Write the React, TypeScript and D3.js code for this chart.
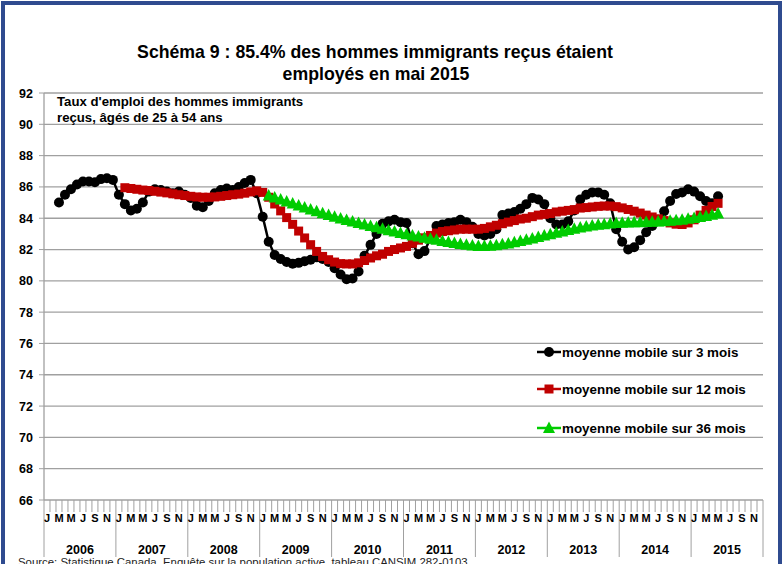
import * as d3 from "d3";

// months are counted from Jan 2006 (index 0)
const years = ["2006", "2007", "2008", "2009", "2010", "2011", "2012", "2013", "2014", "2015"];
const monthLetters = ["J", "F", "M", "A", "M", "J", "J", "A", "S", "O", "N", "D"];
const yTicks = [66, 68, 70, 72, 74, 76, 78, 80, 82, 84, 86, 88, 90, 92];

const start3 = 2; // Mar 2006
const avg3 = [
  85.0, 85.5, 85.85, 86.15, 86.35, 86.35, 86.3, 86.5, 86.55, 86.45,
  85.5, 84.9, 84.5, 84.6, 85.0, 85.7, 85.85, 85.8, 85.7, 85.6, 85.7, 85.5,
  85.3, 84.8, 84.7, 85.1, 85.6, 85.8, 85.9, 85.8, 86.0, 86.25, 86.45, 85.6,
  84.1, 82.5, 81.65, 81.4, 81.2, 81.1, 81.15, 81.25, 81.35, 81.5, 81.4, 81.2,
  80.8, 80.4, 80.1, 80.15, 80.6, 81.6, 82.3, 83.0, 83.65, 83.8, 83.9, 83.75,
  83.7, 82.4, 81.7, 81.9, 82.7, 83.5, 83.6, 83.7, 83.75, 83.9, 83.75, 83.45,
  83.0, 82.9, 83.0, 83.3, 84.2, 84.3, 84.4, 84.6, 84.9, 85.3, 85.2, 84.9,
  84.0, 83.6, 83.6, 83.8, 84.5, 85.2, 85.5, 85.65, 85.65, 85.5, 84.95, 83.3,
  82.5, 82.0, 82.15, 82.6, 83.1, 83.5, 83.9, 84.45, 85.1, 85.55, 85.65, 85.85,
  85.7, 85.4, 85.1, 84.95, 85.4,
];

const start12 = 13; // Feb 2007
const avg12 = [
  85.95, 85.9, 85.85, 85.8, 85.77, 85.72, 85.67, 85.62, 85.56, 85.5, 85.45,
  85.4, 85.36, 85.34, 85.34, 85.36, 85.4, 85.45, 85.5, 85.54, 85.6, 85.68, 85.75,
  85.65, 85.34, 84.91, 84.47, 84.04, 83.61, 83.18, 82.74, 82.31, 81.88, 81.56, 81.35,
  81.2, 81.1, 81.08, 81.08, 81.15, 81.3, 81.46, 81.6, 81.7, 81.88, 82.0, 82.1,
  82.2, 82.4, 82.6, 82.75, 82.9, 83.05, 83.15, 83.2, 83.25, 83.3, 83.3, 83.3,
  83.3, 83.35, 83.45, 83.55, 83.65, 83.75, 83.85, 83.95, 84.0, 84.1, 84.2, 84.25,
  84.3, 84.4, 84.45, 84.5, 84.55, 84.65, 84.68, 84.72, 84.76, 84.78, 84.78, 84.74,
  84.66, 84.56, 84.45, 84.33, 84.2, 84.08, 83.96, 83.85, 83.7, 83.62, 83.6, 83.7,
  83.9, 84.2, 84.5, 84.75, 84.95,
];

const start36 = 37; // Feb 2009
const avg36 = [
  85.45, 85.33, 85.2, 85.07, 84.94, 84.81, 84.68, 84.56, 84.44, 84.32, 84.21,
  84.1, 83.99, 83.89, 83.79, 83.69, 83.6, 83.51, 83.42, 83.33, 83.24, 83.15, 83.06,
  82.98, 82.9, 82.83, 82.76, 82.69, 82.62, 82.55, 82.48, 82.42, 82.36, 82.3, 82.26,
  82.23, 82.22, 82.24, 82.28, 82.33, 82.39, 82.46, 82.54, 82.62, 82.71, 82.8, 82.89,
  82.98, 83.07, 83.16, 83.25, 83.33, 83.4, 83.47, 83.53, 83.58, 83.62, 83.66, 83.69,
  83.71, 83.73, 83.74, 83.75, 83.76, 83.77, 83.79, 83.81, 83.84, 83.87, 83.91, 83.96,
  84.02, 84.08, 84.15, 84.22, 84.3,
];

const legendLabels = [
  "moyenne mobile sur 3 mois",
  "moyenne mobile sur 12 mois",
  "moyenne mobile sur 36 mois",
];

const FONT = "Arial, 'Liberation Sans', sans-serif";
const BLACK = "#000000";
const RED = "#C00000";
const GREEN = "#00CC00";
const GRID = "#A0A0A0";

const left = 44;
const right = 763;
const top = 93;
const bottom = 500;

const Marker = ({ kind, x, y, color }) => {
  if (kind === "circle") return <circle cx={x} cy={y} r={5} fill={color} />;
  if (kind === "square") return <rect x={x - 4.5} y={y - 4.5} width={9} height={9} fill={color} />;
  return <path d={`M${x},${y - 6.5}L${x + 6},${y + 5}L${x - 6},${y + 5}Z`} fill={color} />;
};

export default function App() {
  const nMonths = years.length * 12;
  const x = d3.scaleBand().domain(d3.range(nMonths)).range([left, right]).padding(0);
  const y = d3.scaleLinear().domain([66, 92]).range([bottom, top]);
  const cx = (m) => x(m) + x.bandwidth() / 2;

  const series = [
    { start: start3, values: avg3, color: BLACK, kind: "circle" },
    { start: start12, values: avg12, color: RED, kind: "square" },
    { start: start36, values: avg36, color: GREEN, kind: "triangle" },
  ];

  const line = d3
    .line()
    .x((d) => cx(d.m))
    .y((d) => y(d.v));

  return (
    <div style={{ position: "absolute", left: 0, top: 0 }}>
      <svg width={784} height={564} style={{ display: "block", fontFamily: FONT }}>
        <rect x={0} y={0} width={784} height={564} fill="#ffffff" />
        <rect x={3} y={3} width={777} height={620} fill="none" stroke="#2F4B8F" strokeWidth={4} />

        <text x={375} y={58} textAnchor="middle" fontSize={17.7} fontWeight="bold">
          Schéma 9 : 85.4% des hommes immigrants reçus étaient
        </text>
        <text x={376} y={80} textAnchor="middle" fontSize={17.7} fontWeight="bold">
          employés en mai 2015
        </text>

        {yTicks.map((t) => (
          <g key={t}>
            <line x1={left} x2={right} y1={y(t)} y2={y(t)} stroke={GRID} strokeWidth={1.3} />
            <line x1={left - 5} x2={left} y1={y(t)} y2={y(t)} stroke={GRID} strokeWidth={1} />
            <text x={33} y={y(t) + 4.5} textAnchor="end" fontSize={12.5} fontWeight="bold">
              {t}
            </text>
          </g>
        ))}
        <line x1={left} x2={left} y1={top} y2={bottom} stroke={GRID} strokeWidth={1.3} />

        <text x={57} y={106} fontSize={13.2} fontWeight="bold">
          Taux d'emploi des hommes immigrants
        </text>
        <text x={57} y={122} fontSize={13.2} fontWeight="bold">
          reçus, âgés de 25 à 54 ans
        </text>

        {d3.range(nMonths + 1).map((m) => {
          const xx = m === nMonths ? right : x(m);
          const yearEdge = m % 12 === 0;
          return (
            <line
              key={m}
              x1={xx}
              x2={xx}
              y1={bottom}
              y2={yearEdge ? 557 : 512}
              stroke={GRID}
              strokeWidth={1}
            />
          );
        })}
        {d3.range(nMonths).map((m) =>
          m % 2 === 0 ? (
            <text key={m} x={cx(m)} y={522} textAnchor="middle" fontSize={11} fontWeight="bold">
              {monthLetters[m % 12]}
            </text>
          ) : null
        )}
        {years.map((yr, i) => (
          <text
            key={yr}
            x={(x(i * 12) + (i === years.length - 1 ? right : x(i * 12 + 12))) / 2}
            y={554}
            textAnchor="middle"
            fontSize={12.5}
            fontWeight="bold"
          >
            {yr}
          </text>
        ))}

        {series.map((s) => {
          const pts = s.values.map((v, i) => ({ m: s.start + i, v }));
          return (
            <g key={s.kind}>
              <path d={line(pts)} fill="none" stroke={s.color} strokeWidth={2.5} />
              {pts.map((p) => (
                <Marker key={p.m} kind={s.kind} x={cx(p.m)} y={y(p.v)} color={s.color} />
              ))}
            </g>
          );
        })}

        {series.map((s, i) => {
          const ly = [352, 389, 428][i];
          return (
            <g key={"lg" + i}>
              <line x1={537} x2={561} y1={ly} y2={ly} stroke={s.color} strokeWidth={2.5} />
              <Marker kind={s.kind} x={549} y={ly} color={s.color} />
              <text x={562} y={ly + 4.5} fontSize={13.4} fontWeight="bold">
                {legendLabels[i]}
              </text>
            </g>
          );
        })}

        <text x={18} y={566} fontSize={11.4} fill="#222">
          Source: Statistique Canada, Enquête sur la population active, tableau CANSIM 282-0103.
        </text>
      </svg>
    </div>
  );
}
